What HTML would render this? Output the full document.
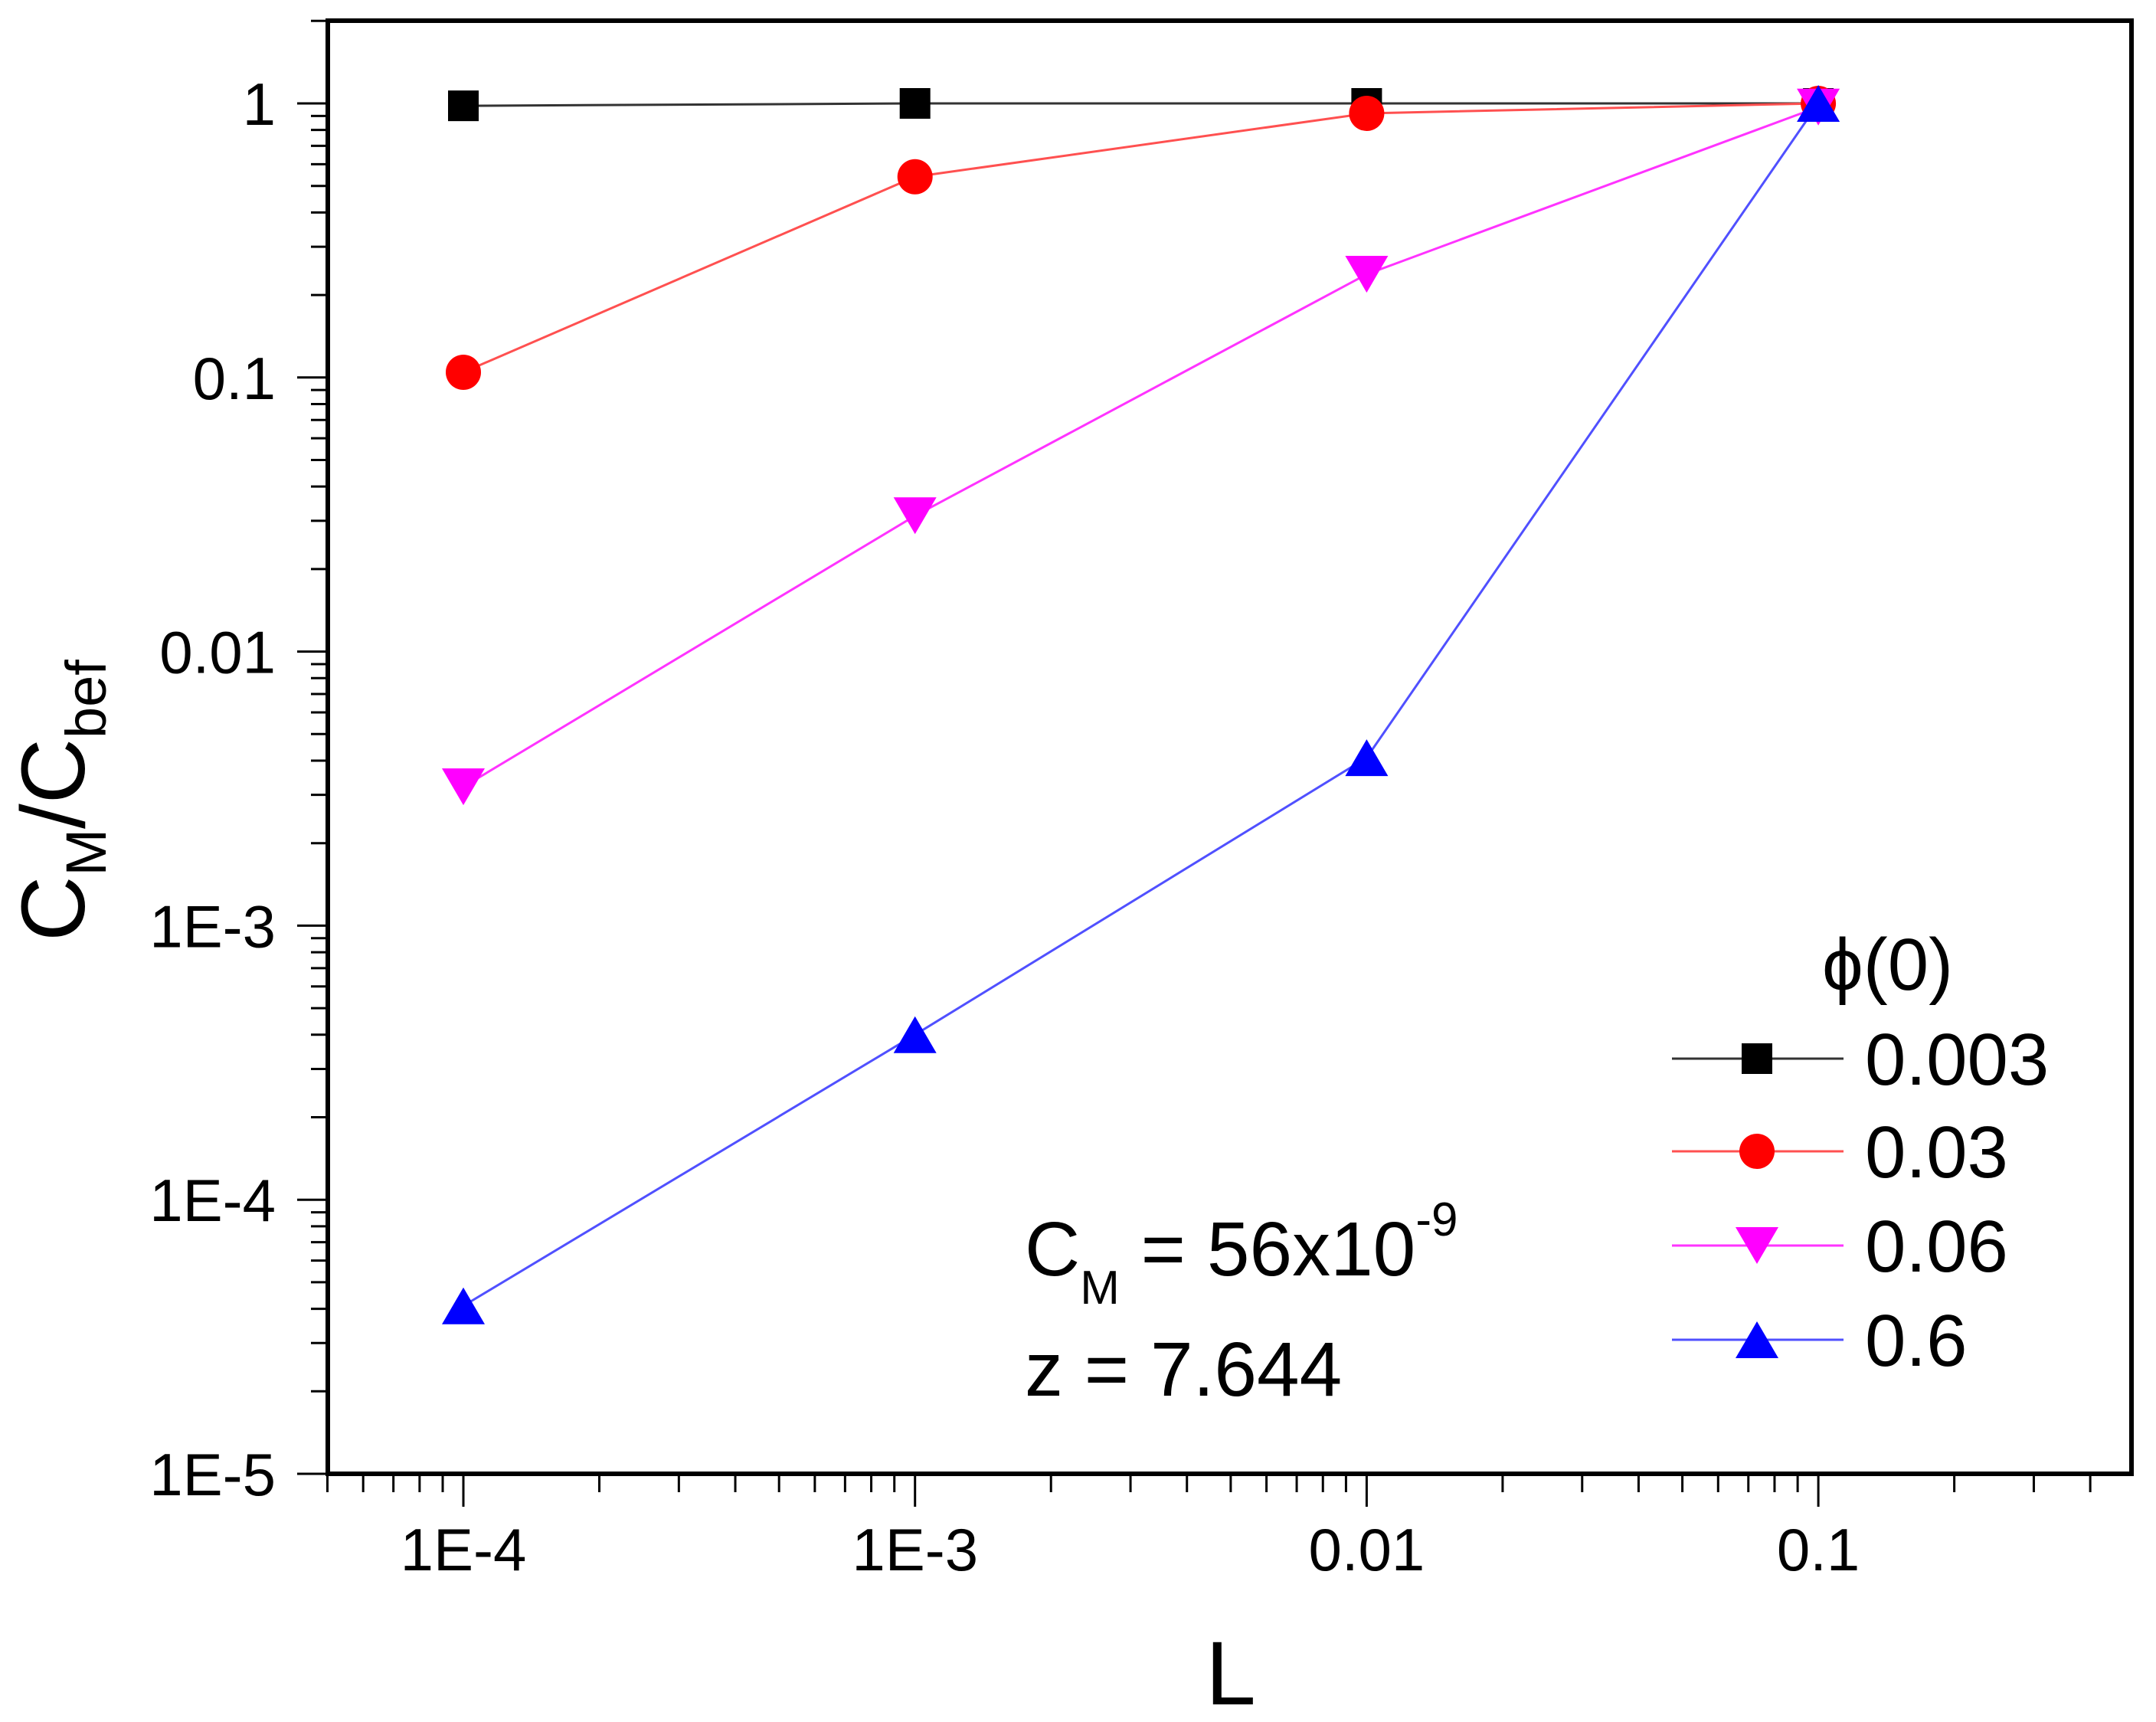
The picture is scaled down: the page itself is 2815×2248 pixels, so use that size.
<!DOCTYPE html>
<html><head><meta charset="utf-8">
<style>
html,body{margin:0;padding:0;background:#fff;}
svg{display:block;}
text{font-family:"Liberation Sans",Arial,sans-serif;fill:#000;}
</style></head>
<body>
<svg id="chart" width="2815" height="2248" viewBox="0 0 2815 2248" xmlns="http://www.w3.org/2000/svg">
  <g id="axes"></g>
  <g id="series"></g>
  <text transform="translate(110,1045) rotate(-90)" text-anchor="middle" font-size="118">C<tspan font-size="74" dy="28">M</tspan><tspan dy="-28">/C</tspan><tspan font-size="74" dy="28">bef</tspan></text>
  <text x="1607" y="2225" text-anchor="middle" font-size="118">L</text>
  <g>
    <text x="1338" y="1665" font-size="100">C<tspan font-size="62" dy="37">M</tspan><tspan dy="-37"> = 56x10</tspan><tspan font-size="62" dy="-52">-9</tspan></text>
    <text x="1338" y="1822" font-size="100">z = 7.644</text>
  </g>
  <g id="legend">
    <text x="2379" y="1292" font-size="96">ϕ(0)</text>
  </g>
</svg>
<script>
const xTickValues = [1e-4, 1e-3, 1e-2, 1e-1];
const xTickLabels = ["1E-4", "1E-3", "0.01", "0.1"];
const yTickValues = [1, 0.1, 0.01, 1e-3, 1e-4, 1e-5];
const yTickLabels = ["1", "0.1", "0.01", "1E-3", "1E-4", "1E-5"];
const xValues = [1e-4, 1e-3, 1e-2, 1e-1];
const series003 = [0.98, 1.0, 1.0, 1.0];
const series03 = [0.1045, 0.54, 0.92, 1.0];
const series06 = [0.00321, 0.0313, 0.238, 0.97];
const series6 = [4.1e-5, 4.0e-4, 0.0041, 1.0];
const seriesNames = ["0.003", "0.03", "0.06", "0.6"];

const NS = "http://www.w3.org/2000/svg";
const X0 = 428, X1 = 2783, Y0 = 27, Y1 = 1924;
const xDec = 589.7;
const yDec = 357.8;
function xs(v){ return 605 + (Math.log10(v) + 4) * xDec; }
function ys(v){ return 135 - Math.log10(v) * yDec; }

function mk(tag, attrs, parent){
  const e = document.createElementNS(NS, tag);
  for (const k in attrs) e.setAttribute(k, attrs[k]);
  parent.appendChild(e);
  return e;
}
const axes = document.getElementById('axes');
const ser = document.getElementById('series');
const leg = document.getElementById('legend');

const frame = mk('rect', {x:X0, y:Y0, width:X1-X0, height:Y1-Y0, fill:'none', stroke:'#000', 'stroke-width':6}, axes);



for (let d = -5; d <= 0; d++) {
  for (let m = 1; m <= 9; m++) {
    const v = m * Math.pow(10, d);
    const x = xs(v);
    if (x < X0 - 1 || x > X1 + 1) continue;
    const len = m === 1 ? 43 : 24;
    const t = mk('line', {x1:x, y1:Y1, x2:x, y2:Y1+len, stroke:'#000', 'stroke-width':3}, axes);
    
    
  }
}
xTickValues.forEach((v, i) => {
  const t = mk('text', {x:xs(v), y:2050, 'text-anchor':'middle', 'font-size':78}, axes);
  t.textContent = xTickLabels[i];
  
  
});
for (let d = -5; d <= 0; d++) {
  for (let m = 1; m <= 9; m++) {
    const v = m * Math.pow(10, d);
    const y = ys(v);
    if (y < Y0 - 1 || y > Y1 + 1) continue;
    const len = m === 1 ? 40 : 22;
    const t = mk('line', {x1:X0, y1:y, x2:X0-len, y2:y, stroke:'#000', 'stroke-width':3}, axes);
    
    
  }
}
yTickValues.forEach((v, i) => {
  const t = mk('text', {x:360, y:ys(v)+28, 'text-anchor':'end', 'font-size':78}, axes);
  t.textContent = yTickLabels[i];
  
  
});

const styles = [
  {color:'#000', line:'#333', marker:'square'},
  {color:'#f00', line:'#ff5050', marker:'circle'},
  {color:'#f0f', line:'#ff33ff', marker:'down'},
  {color:'#00f', line:'#5050ff', marker:'up'}
];
const allSeries = [series003, series03, series06, series6];

function marker(type, cx, cy, color, parent){
  let e;
  if (type === 'square') e = mk('rect', {x:cx-20, y:cy-20, width:40, height:40, fill:color}, parent);
  else if (type === 'circle') e = mk('circle', {cx:cx, cy:cy, r:23, fill:color}, parent);
  else if (type === 'down') e = mk('polygon', {points:`${cx-28},${cy-24} ${cx+28},${cy-24} ${cx},${cy+24}`, fill:color}, parent);
  else e = mk('polygon', {points:`${cx-28},${cy+24} ${cx+28},${cy+24} ${cx},${cy-24}`, fill:color}, parent);
  return e;
}

allSeries.forEach((vals, si) => {
  const g = mk('g', {}, ser);
  
  
  const pts = vals.map((v, i) => xs(xValues[i]) + ',' + ys(v)).join(' ');
  const pl = mk('polyline', {points:pts, fill:'none', stroke:styles[si].line, 'stroke-width':3}, g);
  
  
  vals.forEach((v, i) => {
    const m = marker(styles[si].marker, xs(xValues[i]), ys(v), styles[si].color, g);
    
    
  });
});

const legY = [1382, 1503, 1626, 1749];
seriesNames.forEach((name, si) => {
  const g = mk('g', {}, leg);
  
  
  const y = legY[si];
  mk('line', {x1:2183, y1:y, x2:2407, y2:y, stroke:styles[si].line, 'stroke-width':3}, g);
  marker(styles[si].marker, 2294, y, styles[si].color, g);
  const t = mk('text', {x:2435, y:y+34, 'font-size':96}, g);
  t.textContent = name;
});
</script>
</body></html>
